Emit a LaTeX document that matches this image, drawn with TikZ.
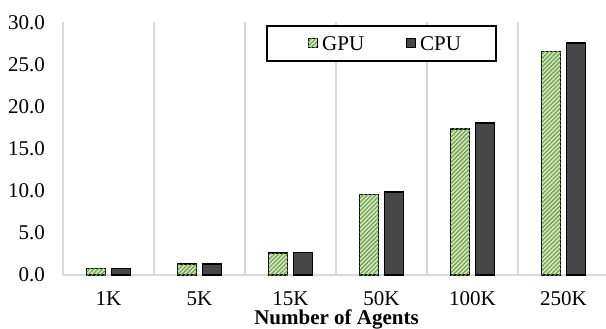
\documentclass[tikz,border=0pt]{standalone}
\usepackage{fontspec}
\setmainfont{Liberation Serif}
\usetikzlibrary{patterns.meta}
\definecolor{gridc}{HTML}{D9D9D9}
\definecolor{lgreen}{HTML}{CFE5BC}
\definecolor{dgreen}{HTML}{6F9E48}
\definecolor{cpuc}{HTML}{474747}
\tikzset{
  gridline/.style={draw=gridc, line width=1.5pt},
  gpubar/.style={draw=black, line width=1.4pt, fill=lgreen,
    postaction={pattern={Lines[angle=45,distance=3pt,line width=1.1pt]}, pattern color=dgreen}},
  cpubar/.style={draw=black, line width=1.4pt, fill=cpuc},
  lab/.style={font=\fontsize{21}{25}\selectfont, inner sep=0pt},
  ylab/.style={lab, anchor=east},
  xlab/.style={lab, anchor=base, text height=14pt, text depth=0pt},
}
\begin{document}
\begin{tikzpicture}[x=1pt,y=-1pt]
\useasboundingbox (0,0) rectangle (606,329);
% vertical gridlines
\foreach \i in {0,...,6}{
  \draw[gridline] (63+91*\i,22) -- (63+91*\i,275);
}
% x axis
\draw[gridline] (63,275) -- (606,275);
% y tick labels
\foreach \v/\t in {0/0.0,5/5.0,10/10.0,15/15.0,20/20.0,25/25.0,30/30.0}{
  \node[ylab] (y\v) at (45,{275-8.4*\v}) {\t};
}
% bars
\foreach \i/\g/\c/\n in {0/0.8/0.8/1K,1/1.3/1.3/5K,2/2.6/2.7/15K,3/9.6/9.9/50K,4/17.4/18.1/100K,5/26.6/27.6/250K}{
  \pgfmathsetmacro{\cx}{108.5+91*\i}
  \draw[gpubar] ({\cx-22},275) rectangle ({\cx-3},{275-8.4*\g});
  \draw[cpubar] ({\cx+3},275) rectangle ({\cx+22},{275-8.4*\c});
  \node[xlab] (x\i) at (\cx,305) {\n};
}
\node[lab, font=\fontsize{21}{25}\selectfont\bfseries, anchor=base, text height=13.5pt, text depth=4pt] (xt) at (336.5,324.3) {Number of Agents};
% legend
\draw[draw=black, line width=1.5pt, fill=white] (267,26) rectangle (496,61);
\draw[gpubar, line width=1pt] (308,39) rectangle (317,48);
\node[lab, anchor=west] (lg) at (322,43.5) {GPU};
\draw[cpubar, line width=1pt] (406,39) rectangle (415,48);
\node[lab, anchor=west] (lc) at (420,43.5) {CPU};
\end{tikzpicture}
\end{document}
